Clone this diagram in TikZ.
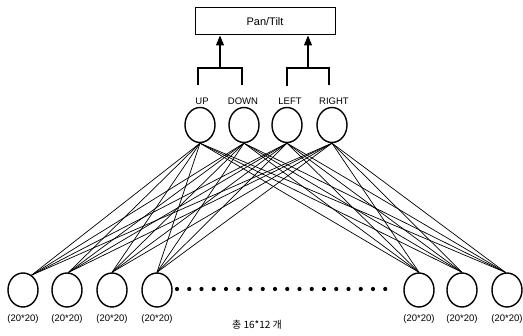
\documentclass[tikz,border=0pt]{standalone}
\usepackage{fontspec}
\setmainfont{Liberation Sans}
\newfontfamily\krfont{Noto Sans CJK KR}
\usetikzlibrary{shapes.geometric,arrows.meta,calc}

\begin{document}
\begin{tikzpicture}[x=1pt,y=-1pt,
    unit/.style={shape=ellipse,draw,line width=1.4pt,minimum width=30pt,minimum height=35pt,inner sep=0pt},
    dirlbl/.style={font=\fontsize{9.5}{10}\selectfont,inner sep=1pt},
    sizelbl/.style={font=\fontsize{9.5}{11}\selectfont,inner sep=1pt},
    link/.style={line width=0.7pt},
    bracket/.style={line width=1.2pt}]
    \useasboundingbox (0,0) rectangle (523,336);
    \node[shape=rectangle,draw,line width=1pt,minimum width=140pt,minimum height=27pt,font=\fontsize{11}{12}\selectfont] (box) at (265,21.5) {Pan/Tilt};
    % output units
    \node[unit] (nUp) at (200,125) {};
    \node[unit] (nDown) at (244,125) {};
    \node[unit] (nLeft) at (287,125) {};
    \node[unit] (nRight) at (332,125) {};
    \node[dirlbl] (lUp) at (202,101) {UP};
    \node[dirlbl] (lDown) at (243,101) {DOWN};
    \node[dirlbl] (lLeft) at (290,101) {LEFT};
    \node[dirlbl] (lRight) at (334,101) {RIGHT};
    \coordinate (jL) at (220,68);
    \coordinate (jR) at (308,68);
    \draw[bracket] ($(lUp.north)+(-4,-11)$) |- (jL) -| ($(lDown.north)+(-1,-11)$);
    \draw[bracket] ($(lLeft.north)+(-3,-11)$) |- (jR) -| ($(lRight.north)+(-5,-11)$);
    \draw[line width=1.2pt,-{Triangle[length=10pt,width=8pt]}] (jL) -- (jL |- box.south);
    \draw[line width=1.2pt,-{Triangle[length=10pt,width=8pt]}] (jR) -- (jR |- box.south);
    % input units
    \node[unit,minimum height=34pt] (b1) at (23,290) {};
    \node[unit,minimum height=34pt] (b2) at (67,290) {};
    \node[unit,minimum height=34pt] (b3) at (112,290) {};
    \node[unit,minimum height=34pt] (b4) at (157,290) {};
    \node[unit,minimum height=34pt] (b5) at (419,290) {};
    \node[unit,minimum height=34pt] (b6) at (462,290) {};
    \node[unit,minimum height=34pt] (b7) at (507,290) {};
    \foreach \b in {b1,b2,b3,b4,b5,b6,b7}
        \node[sizelbl] at ($(\b)+(0,29)$) {(20*20)};
    \foreach \i in {0,...,17}
        \fill (177+\i*12.25,289) circle (2.1pt);
    \node[font=\krfont\fontsize{10}{11}\selectfont] (total) at (257,325) {총 16*12 개};
    % full connections
    \foreach \t in {nUp,nDown,nLeft,nRight}
        \foreach \b/\a in {b1/60,b2/85,b3/90,b4/90,b5/90,b6/90,b7/95}
            \draw[link] (\t.south) -- (\b.\a);
\end{tikzpicture}
\end{document}
